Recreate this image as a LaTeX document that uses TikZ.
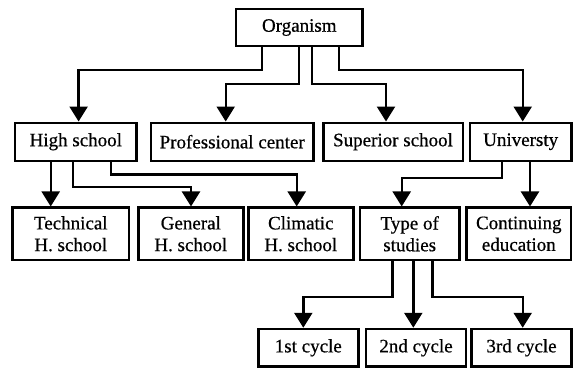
\documentclass[tikz,border=0pt]{standalone}
\usepackage{fontspec}
\setmainfont{Liberation Serif}[FakeBold=0.6]
\usetikzlibrary{arrows.meta}
\begin{document}
\begin{tikzpicture}[x=1bp,y=-1bp,
  box/.style={draw, line width=2.4bp, inner sep=0pt, align=center,
    font=\fontsize{19bp}{21.7bp}\selectfont},
  arr/.style={line width=2.4bp, -{Triangle[length=15bp,width=18bp]}}]
\useasboundingbox (0,0) rectangle (573,368);
% row 0
\node[box, minimum width=126.7bp, minimum height=37bp] (org) at (299.3,27.5) {Organism};
% row 1
\node[box, minimum width=121.7bp, minimum height=38bp] (hs) at (75.8,141.7) {High school};
\node[box, minimum width=162.3bp, minimum height=38bp] (pc) at (232.2,141.7) {Professional center};
\node[box, minimum width=139.4bp, minimum height=38bp] (ss) at (393,141.7) {Superior school};
\node[box, minimum width=101.5bp, minimum height=38bp] (un) at (520.7,141.7) {Universty};
% row 2
\node[box, minimum width=116.3bp, minimum height=52.3bp] (tech) at (70.8,233.8) {Technical\\H. school};
\node[box, minimum width=105bp, minimum height=52.3bp] (gen) at (190.8,233.8) {General\\H. school};
\node[box, minimum width=105bp, minimum height=52.3bp] (cli) at (300.8,233.8) {Climatic\\H. school};
\node[box, minimum width=99.3bp, minimum height=52.3bp] (type) at (409.7,233.8) {Type of\\studies};
\node[box, minimum width=104.3bp, minimum height=52.3bp] (cont) at (518.8,233.8) {Continuing\\education};
% row 3
\node[box, minimum width=100bp, minimum height=37.7bp] (c1) at (308.3,347.8) {1st cycle};
\node[box, minimum width=100bp, minimum height=37.7bp] (c2) at (416,347.8) {2nd cycle};
\node[box, minimum width=100bp, minimum height=37.7bp] (c3) at (521.5,347.8) {3rd cycle};
% connectors from Organism
\draw[arr] ([xshift=-37.6bp]org.south) -- ++(0,23) -| ([xshift=2.8bp]hs.north);
\draw[arr] ([xshift=-0.3bp]org.south) -- ++(0,37) -| ([xshift=-6.5bp]pc.north);
\draw[arr] ([xshift=12.7bp]org.south) -- ++(0,37) -| ([xshift=-7bp]ss.north);
\draw[arr] ([xshift=39.7bp]org.south) -- ++(0,23) -| ([xshift=2bp]un.north);
% from High school
\draw[arr] ([xshift=-25.1bp]hs.south) -- ([xshift=-25.1bp]hs.south |- tech.north);
\draw[arr] ([xshift=-2.8bp]hs.south) -- ++(0,25) -| ([xshift=0.2bp]gen.north);
\draw[arr] ([xshift=35.2bp]hs.south) -- ++(0,12.6) -| ([xshift=-4.1bp]cli.north);
% from University
\draw[arr] ([xshift=-19bp]un.south) -- ++(0,16) -| ([xshift=-8bp]type.north);
\draw[arr] ([xshift=9.3bp]un.south) -- ([xshift=9.3bp]un.south |- cont.north);
% from Type of studies
\draw[arr] ([xshift=-17.4bp]type.south) -- ++(0,35.7) -| ([xshift=-5bp]c1.north);
\draw[arr] ([xshift=3.6bp]type.south) -- ([xshift=3.6bp]type.south |- c2.north);
\draw[arr] ([xshift=22.6bp]type.south) -- ++(0,35.7) -| ([xshift=1.2bp]c3.north);
\end{tikzpicture}
\end{document}
